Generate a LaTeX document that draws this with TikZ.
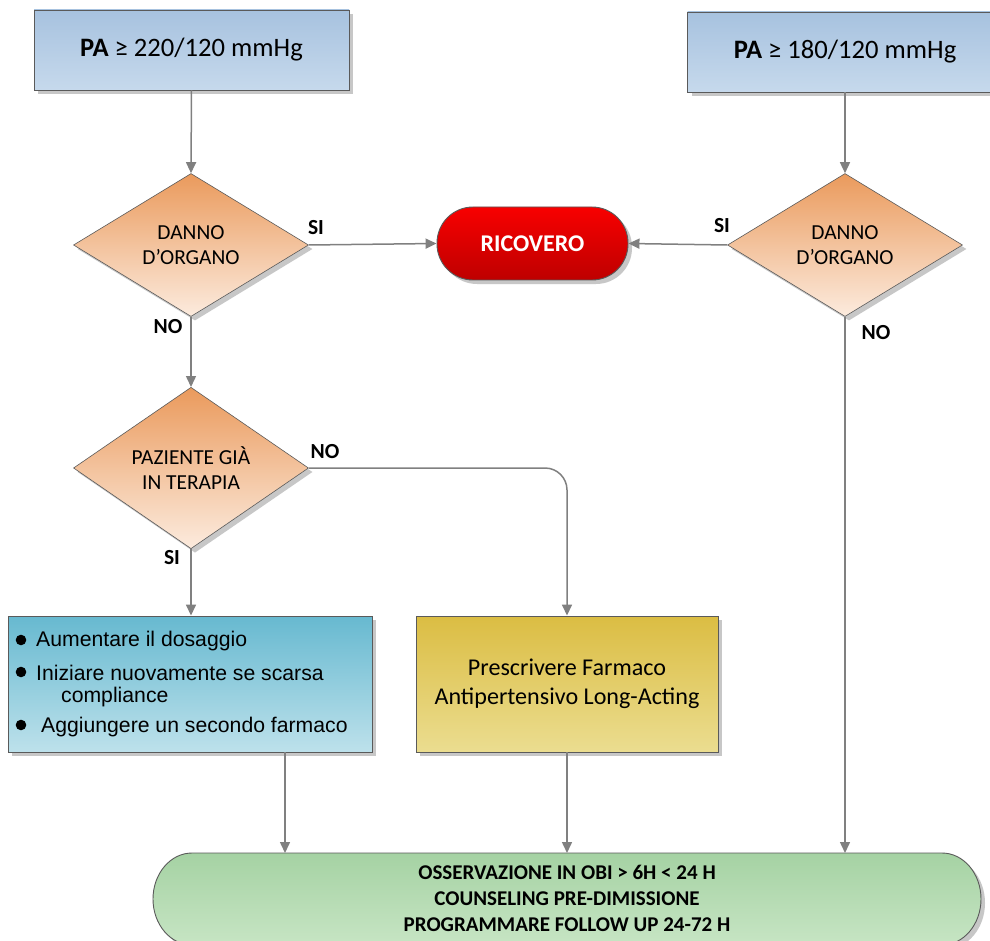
\documentclass[tikz,border=0pt]{standalone}
\usepackage{fontspec}
\setmainfont{Carlito}
\newfontfamily\listfont{Liberation Sans}
\usetikzlibrary{shapes.geometric,shadows,arrows.meta}

\definecolor{edge}{HTML}{5A5A5A}
\definecolor{wire}{HTML}{808080}
\definecolor{paTop}{HTML}{A7C2DF}
\definecolor{paBot}{HTML}{C6D9EC}
\definecolor{dTop}{HTML}{EA9A5C}
\definecolor{dBot}{HTML}{FCEBDE}
\definecolor{rTop}{HTML}{F80000}
\definecolor{rBot}{HTML}{BE0000}
\definecolor{lTop}{HTML}{67B9D0}
\definecolor{lBot}{HTML}{BDE1EB}
\definecolor{yTop}{HTML}{DBBD43}
\definecolor{yBot}{HTML}{EBDD90}
\definecolor{gTop}{HTML}{A5D2A3}
\definecolor{gBot}{HTML}{C7E5C4}

\tikzset{
  softshadow/.style={drop shadow={shadow xshift=4pt, shadow yshift=-4pt, fill=black!22, opacity=1}},
  pabox/.style={draw=edge, line width=0.9pt, top color=paTop, bottom color=paBot, softshadow,
    minimum width=315pt, minimum height=80pt, inner sep=0pt, font=\fontsize{26.6}{30}\selectfont},
  decision/.style={diamond, draw=edge, line width=0.6pt, top color=dTop, bottom color=dBot, softshadow,
    minimum width=235pt, minimum height=143pt, inner sep=0pt, align=center,
    font=\fontsize{21.4}{25}\selectfont},
  terminal/.style={draw=edge, line width=0.9pt, top color=rTop, bottom color=rBot, softshadow,
    rounded corners=36pt, minimum width=191pt, minimum height=73pt, inner sep=0pt,
    text=white, font=\fontsize{24}{27}\selectfont\bfseries},
  actbox/.style={draw=edge, line width=0.9pt, softshadow, minimum height=136pt, inner sep=0pt, align=center},
  lab/.style={font=\fontsize{21.5}{24}\selectfont\bfseries, inner sep=0pt},
  item/.style={anchor=west, inner sep=0pt, font=\listfont\fontsize{21.2}{24}\selectfont},
  conn/.style={draw=wire, line width=1.5pt, -{Triangle[length=11pt,width=10pt]}},
}

\begin{document}
\begin{tikzpicture}[x=1pt,y=-1pt]
\useasboundingbox (0,0) rectangle (990,941);
\clip (0,0) rectangle (990,941);
\fill[white] (0,0) rectangle (990,941);

% entry conditions
\node[pabox] (pa1) at (191.5,50) {\textbf{PA} ≥ 220/120 mmHg};
\node[pabox] (pa2) at (845,52) {\textbf{PA} ≥ 180/120 mmHg};

% decisions
\node[decision] (d1) at (191,245) {DANNO\\D’ORGANO};
\node[decision] (d2) at (845,245) {DANNO\\D’ORGANO};
\node[decision, minimum height=149pt] (d3) at (191,468) {PAZIENTE GIÀ\\IN TERAPIA};

% admission
\node[terminal] (ric) at (532.5,243.5) {RICOVERO};

% therapy boxes
\node[actbox, top color=lTop, bottom color=lBot, minimum width=364pt] (lst) at (190,684) {};
\node[actbox, top color=yTop, bottom color=yBot, minimum width=302pt,
      font=\fontsize{24.1}{28.5}\selectfont] (yel) at (567,684)
      {Prescrivere Farmaco\\Antipertensivo Long-Acting};

% bullet list
\fill (21,640) circle (5.3pt);
\fill (21,672) circle (5.3pt);
\fill (21,725) circle (5.3pt);
\node[item] (i1) at (36,641) {Aumentare il dosaggio};
\node[item] (i2) at (36,673) {Iniziare nuovamente se scarsa};
\node[item] (i3) at (61,697) {compliance};
\node[item] (i4) at (41,727) {Aggiungere un secondo farmaco};

% observation / discharge terminator
\path[draw=edge, line width=0.9pt, top color=gTop, bottom color=gBot, softshadow]
  (192,853) -- (942,853) arc[start angle=90, end angle=-90, x radius=39pt, y radius=46pt]
  -- (192,945) arc[start angle=270, end angle=90, x radius=39pt, y radius=46pt] -- cycle;
\node[align=center, inner sep=0pt, font=\fontsize{21}{26}\selectfont\bfseries] (obs) at (567,898)
  {OSSERVAZIONE IN OBI > 6H < 24 H\\COUNSELING PRE-DIMISSIONE\\PROGRAMMARE FOLLOW UP 24-72 H};
\coordinate (in1) at (285,853);
\coordinate (in2) at (567,853);
\coordinate (in3) at (845,853);

% connectors
\draw[conn] (pa1.south) -- (d1.north);
\draw[conn] (pa2.south) -- (d2.north);
\draw[conn] (d1.east) -- (ric.west);
\draw[conn] (d2.west) -- (ric.east);
\draw[conn] (d1.south) -- (d3.north);
\draw[conn] (d3.south) -- (d3.south |- lst.north);
\draw[conn, rounded corners=22pt] (d3.east) -| (yel.north);
\draw[conn] (d2.south) -- (in3);
\draw[conn] (lst.south -| in1) -- (in1);
\draw[conn] (yel.south) -- (in2);

% branch labels
\node[lab] (si1) at (316,228) {SI};
\node[lab] (si2) at (722,226) {SI};
\node[lab] (no1) at (168,327) {NO};
\node[lab] (no2) at (876,333) {NO};
\node[lab] (no3) at (325,452) {NO};
\node[lab] (si3) at (172,558) {SI};
\end{tikzpicture}
\end{document}
